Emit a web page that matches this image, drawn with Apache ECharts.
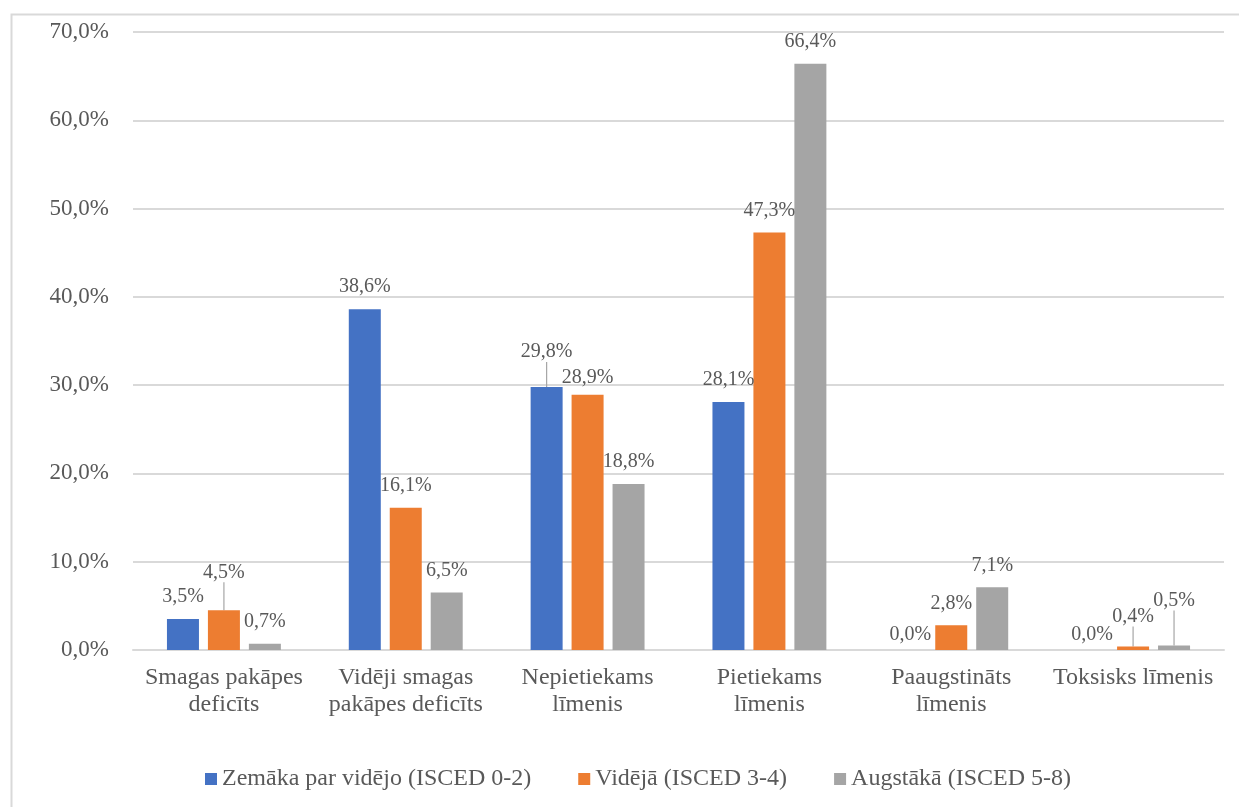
<!DOCTYPE html>
<html>
<head>
<meta charset="utf-8">
<title>Līmeņi pēc izglītības</title>
<script src="https://cdn.jsdelivr.net/npm/echarts@6/dist/echarts.min.js"></script>
<style>
  html, body { margin: 0; padding: 0; background: #ffffff; }
  #chart { width: 1239px; height: 807px; }
</style>
</head>
<body>
<div id="chart"></div>
<script>
// Categories (x axis) and the three education groups, values in percent
const categories = [
  'Smagas pakāpes\ndeficīts',
  'Vidēji smagas\npakāpes deficīts',
  'Nepietiekams\nlīmenis',
  'Pietiekams\nlīmenis',
  'Paaugstināts\nlīmenis',
  'Toksisks līmenis'
];
const seriesNames = [
  'Zemāka par vidējo (ISCED 0-2)',
  'Vidējā (ISCED 3-4)',
  'Augstākā (ISCED 5-8)'
];
const lowerEdu  = [3.5, 38.6, 29.8, 28.1, 0.0, 0.0];
const middleEdu = [4.5, 16.1, 28.9, 47.3, 2.8, 0.4];
const higherEdu = [0.7, 6.5, 18.8, 66.4, 7.1, 0.5];
const yTicks = { min: 0, max: 70, step: 10 };

// Label placement tweaks: vertical shift in px, and whether a leader line is drawn
const labelShift = {
  '0-2': { dy: -13, leader: true },
  '0-4': { dy: 7 },
  '0-5': { dy: 7 },
  '1-0': { dy: -16, leader: true },
  '1-2': { dy: 5 },
  '1-5': { dy: -8, leader: true },
  '2-5': { dy: -23, leader: true }
};

const FONT = "'Liberation Serif', 'Times New Roman', serif";
const TEXT = '#595959';
const colors = ['#4472C4', '#ED7D31', '#A5A5A5'];

const fmt = v => v.toFixed(1).replace('.', ',') + '%';

function buildData(values, si) {
  return values.map((v, di) => {
    const s = labelShift[si + '-' + di];
    if (s && s.leader) return { value: v, labelLine: { show: true } };
    return v;
  });
}

const allValues = [lowerEdu, middleEdu, higherEdu];

const series = allValues.map((vals, si) => ({
  name: seriesNames[si],
  type: 'bar',
  data: buildData(vals, si),
  barWidth: 32,
  barGap: '28%',
  itemStyle: { color: colors[si] },
  label: {
    show: true,
    position: 'top',
    distance: 12,
    color: TEXT,
    fontFamily: FONT,
    fontSize: 20,
    lineHeight: 20,
    formatter: p => fmt(p.value)
  },
  labelLine: {
    show: false,
    lineStyle: { color: '#a6a6a6', width: 1.2 }
  },
  labelLayout: function (params) {
    const s = labelShift[params.seriesIndex + '-' + params.dataIndex];
    return s ? { dy: s.dy } : {};
  }
}));

const chart = echarts.init(document.getElementById('chart'), null, { renderer: 'canvas' });
chart.setOption({
  animation: false,
  color: colors,
  textStyle: { fontFamily: FONT, color: TEXT },
  graphic: [{
    type: 'rect',
    left: 9,
    top: 12,
    shape: { width: 1260, height: 820 },
    style: { fill: 'none', stroke: '#d9d9d9', lineWidth: 2 },
    silent: true,
    z: -1
  }],
  grid: { left: 133, right: 15, top: 32, bottom: 157, containLabel: false },
  legend: {
    data: seriesNames,
    left: 200,
    top: 762,
    icon: 'rect',
    itemWidth: 12,
    itemHeight: 12,
    itemGap: 47,
    textStyle: { fontFamily: FONT, fontSize: 24, color: TEXT }
  },
  xAxis: {
    type: 'category',
    data: categories,
    axisTick: { show: false },
    axisLine: { show: true, lineStyle: { color: '#d9d9d9', width: 2 } },
    axisLabel: {
      margin: 14,
      interval: 0,
      fontFamily: FONT,
      fontSize: 24,
      lineHeight: 27,
      color: TEXT
    }
  },
  yAxis: {
    type: 'value',
    min: yTicks.min,
    max: yTicks.max,
    interval: yTicks.step,
    axisLine: { show: false },
    axisTick: { show: false },
    splitLine: { lineStyle: { color: '#d9d9d9', width: 2 } },
    axisLabel: {
      margin: 24,
      fontFamily: FONT,
      fontSize: 23,
      color: TEXT,
      formatter: v => fmt(v)
    }
  },
  series: series
});
</script>
</body>
</html>
